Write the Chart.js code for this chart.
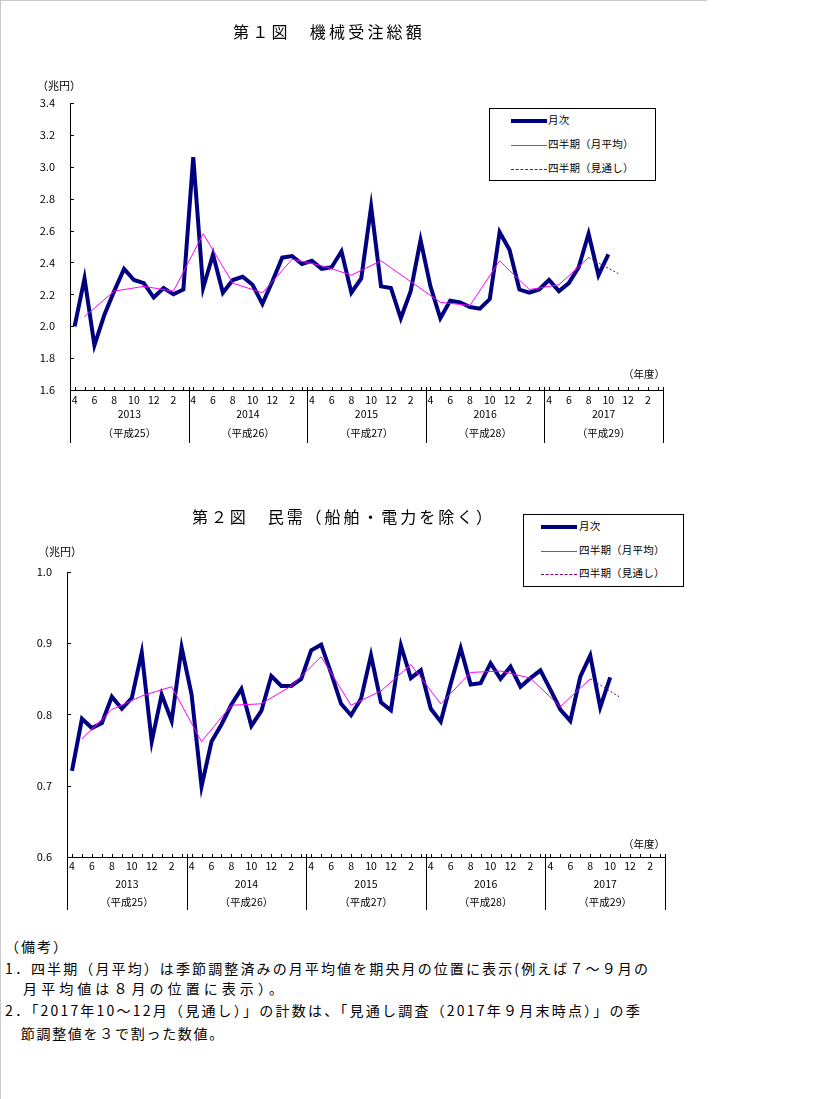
<!DOCTYPE html>
<html lang="ja">
<head>
<meta charset="utf-8">
<title>機械受注総額</title>
<script src="https://cdn.jsdelivr.net/npm/chart.js@4.4.0/dist/chart.umd.min.js"></script>
<style>
body { margin: 0; background: #fff; font-family: "Noto Sans CJK JP", sans-serif; color: #000; }
#page { position: relative; width: 832px; height: 1099px; overflow: hidden; }
#page canvas { position: absolute; left: 0; }
.abs { position: absolute; white-space: nowrap; line-height: 1; }
.title { font-size: 16px; letter-spacing: 2.9px; }
.unit { font-size: 11px; }
.nendo { font-size: 10.5px; }
.legend { position: absolute; border: 1px solid #000; background: #fff; font-size: 10.5px; letter-spacing: 0.2px; }
.legend .row { position: absolute; left: 0; height: 0; }
.legend .ln { position: absolute; width: 36px; }
.legend .tx { position: absolute; top: -7px; line-height: 1.2; white-space: nowrap; }
.note { font-size: 14px; letter-spacing: 2px; left: 5px; }
.frame-top { position: absolute; left: 0; top: 0; width: 707px; height: 1px; background: #c8c8c8; }
.frame-left { position: absolute; left: 0; top: 0; width: 1px; height: 1099px; background: #c8c8c8; }
</style>
</head>
<body>
<div id="page">
  <div class="frame-top"></div>
  <div class="frame-left"></div>

  <canvas id="chart1" width="832" height="460" style="top:0"></canvas>
  <canvas id="chart2" width="832" height="460" style="top:470px"></canvas>

  <div class="abs title" data-fit="192" style="left:233px; top:23px">第１図　機械受注総額</div>
  <div class="abs unit" style="left:37px; top:80px">（兆円）</div>
  <div class="abs nendo" style="left:623px; top:369px">（年度）</div>
  <div class="legend" style="left:489px; top:108px; width:165px; height:71px">
    <div class="row" style="top:12px"><div class="ln" style="left:21px; top:-2px; height:4px; background:#000080"></div><div class="tx" style="left:58px">月次</div></div>
    <div class="row" style="top:36px"><div class="ln" style="left:21px; top:0; height:1px; background:#ff00ff"></div><div class="tx" style="left:58px">四半期（月平均）</div></div>
    <div class="row" style="top:60px"><div class="ln" style="left:21px; top:0; border-top:1px dashed #800080"></div><div class="tx" style="left:58px">四半期（見通し）</div></div>
  </div>

  <div class="abs title" data-fit="303" style="left:192px; top:508px">第２図　民需（船舶・電力を除く）</div>
  <div class="abs unit" style="left:38px; top:546px">（兆円）</div>
  <div class="abs nendo" style="left:623px; top:839px">（年度）</div>
  <div class="legend" style="left:523px; top:514px; width:159px; height:71px">
    <div class="row" style="top:12px"><div class="ln" style="left:17px; top:-2px; height:4px; background:#000080"></div><div class="tx" style="left:55px">月次</div></div>
    <div class="row" style="top:36px"><div class="ln" style="left:17px; top:0; height:1px; background:#ff00ff"></div><div class="tx" style="left:55px">四半期（月平均）</div></div>
    <div class="row" style="top:59px"><div class="ln" style="left:17px; top:0; border-top:1px dashed #800080"></div><div class="tx" style="left:55px">四半期（見通し）</div></div>
  </div>

  <div class="abs note" style="top:939px">（備考）</div>
  <div class="abs note" data-fit="645" style="top:961px">1．四半期（月平均）は季節調整済みの月平均値を期央月の位置に表示(例えば７～９月の</div>
  <div class="abs note" data-fit="282" style="top:981px">　月平均値は８月の位置に表示）。</div>
  <div class="abs note" data-fit="637" style="top:1003px">2．「2017年10～12月（見通し）」の計数は、「見通し調査（2017年９月末時点）」の季</div>
  <div class="abs note" data-fit="220" style="top:1026px">　節調整値を３で割った数値。</div>
</div>

<script>
// fiscal year months (April start) and year labels
const months = [4, 5, 6, 7, 8, 9, 10, 11, 12, 1, 2, 3];
const years = ['2013', '2014', '2015', '2016', '2017'];
const heisei = ['（平成25）', '（平成26）', '（平成27）', '（平成28）', '（平成29）'];

// 第1図 機械受注総額 (兆円), 2013/4 - 2017/10
const monthly1 = [
    2.00, 2.30, 1.88, 2.07, 2.22, 2.36, 2.29, 2.27, 2.18, 2.24, 2.20, 2.23,
    3.06, 2.24, 2.45, 2.21, 2.29, 2.31, 2.26, 2.14, 2.28, 2.43, 2.44, 2.39,
    2.41, 2.36, 2.37, 2.47, 2.21, 2.30, 2.75, 2.25, 2.24, 2.05, 2.22, 2.54,
    2.25, 2.05, 2.16, 2.15, 2.12, 2.11, 2.17, 2.59, 2.48, 2.23, 2.21, 2.23,
    2.29, 2.22, 2.27, 2.37, 2.58, 2.32, 2.45
];
// quarterly monthly averages, plotted at the middle month of each quarter
const quarter1 = [
    2.06, 2.22, 2.25, 2.22, 2.58, 2.27, 2.21, 2.42, 2.38, 2.32,
    2.41, 2.28, 2.15, 2.13, 2.41, 2.23, 2.26, 2.43
];
const outlook1 = [2.43, 2.33];

// 第2図 民需（船舶・電力を除く） (兆円)
const monthly2 = [
    0.721, 0.794, 0.781, 0.788, 0.825, 0.808, 0.823, 0.887, 0.762, 0.828, 0.791, 0.894,
    0.828, 0.699, 0.762, 0.786, 0.814, 0.836, 0.784, 0.805, 0.854, 0.840, 0.840, 0.850,
    0.890, 0.898, 0.858, 0.815, 0.799, 0.822, 0.883, 0.817, 0.806, 0.897, 0.851, 0.862,
    0.808, 0.790, 0.843, 0.893, 0.842, 0.844, 0.872, 0.850, 0.867, 0.839, 0.851, 0.862,
    0.835, 0.807, 0.791, 0.853, 0.883, 0.810, 0.852
];
const quarter2 = [
    0.766, 0.807, 0.826, 0.839, 0.762, 0.813, 0.815, 0.840, 0.881, 0.813,
    0.833, 0.870, 0.815, 0.859, 0.861, 0.851, 0.811, 0.850
];
const outlook2 = [0.850, 0.824];

// spread the letters of fixed-width text lines so they span the same width as the source
document.querySelectorAll('[data-fit]').forEach(el => {
    el.style.letterSpacing = '0px';
    const natural = el.getBoundingClientRect().width;
    const n = Array.from(el.textContent).length;
    const target = parseFloat(el.dataset.fit);
    el.style.letterSpacing = ((target - natural) / n).toFixed(3) + 'px';
});

Chart.defaults.font.family = '"Noto Sans CJK JP", sans-serif';
Chart.defaults.color = '#000';

const totalMonths = years.length * 12;
const monthIdx = Array.from({ length: totalMonths }, (_, i) => i);

// draws inward ticks, year dividers and year labels under the x axis
const axisDecor = {
    id: 'axisDecor',
    afterDraw(chart, args, opts) {
        const ctx = chart.ctx;
        const xs = chart.scales.x;
        const ys = chart.scales.y;
        const a = chart.chartArea;
        ctx.save();
        ctx.strokeStyle = '#000';
        ctx.lineWidth = 1;
        ctx.beginPath();
        ys.ticks.forEach(t => {
            const py = Math.round(ys.getPixelForValue(t.value)) + 0.5;
            ctx.moveTo(a.left, py);
            ctx.lineTo(a.left + 4, py);
        });
        monthIdx.forEach(i => {
            const px = Math.round(xs.getPixelForValue(i)) + 0.5;
            ctx.moveTo(px, a.bottom);
            ctx.lineTo(px, a.bottom - 3);
        });
        for (let k = 0; k <= years.length; k++) {
            const px = Math.round(xs.getPixelForValue(xs.min + 12 * k)) + 0.5;
            ctx.moveTo(px, a.bottom - 3);
            ctx.lineTo(px, a.bottom + 53);
        }
        ctx.stroke();

        ctx.fillStyle = '#000';
        ctx.font = '10.5px "Noto Sans CJK JP"';
        ctx.textAlign = 'center';
        ctx.textBaseline = 'middle';
        years.forEach((yr, k) => {
            const cx = xs.getPixelForValue(xs.min + 12 * k + 6);
            ctx.fillText(yr, cx, a.bottom + opts.yearOffset);
            ctx.fillText(heisei[k], cx, a.bottom + opts.eraOffset);
        });
        ctx.restore();
    }
};

function makeChart(id, monthly, quarter, outlook, cfg) {
    const ctx = document.getElementById(id).getContext('2d');
    return new Chart(ctx, {
        type: 'line',
        data: {
            datasets: [{
                label: '月次',
                data: monthly.map((v, i) => ({ x: i, y: v })),
                borderColor: '#000080',
                borderWidth: 4,
                order: 3
            }, {
                label: '四半期（月平均）',
                data: quarter.map((v, k) => ({ x: 1 + 3 * k, y: v })),
                borderColor: '#ff00ff',
                borderWidth: 1,
                order: 1
            }, {
                label: '四半期（見通し）',
                data: outlook.map((v, k) => ({ x: 52 + 3 * k, y: v })),
                borderColor: '#800080',
                borderWidth: 1,
                borderDash: [2, 2],
                order: 2
            }]
        },
        options: {
            responsive: false,
            animation: false,
            devicePixelRatio: 1,
            elements: { point: { radius: 0 }, line: { tension: 0 } },
            layout: { padding: cfg.padding },
            plugins: {
                legend: { display: false },
                tooltip: { enabled: false },
                axisDecor: { yearOffset: cfg.yearOffset, eraOffset: cfg.eraOffset }
            },
            scales: {
                x: {
                    type: 'linear',
                    min: cfg.xMin,
                    max: cfg.xMin + totalMonths,
                    afterBuildTicks: s => { s.ticks = monthIdx.map(v => ({ value: v })); },
                    afterFit: s => { s.height = 53; },
                    grid: { display: false, drawTicks: false },
                    border: { display: true, color: '#000', width: 1 },
                    ticks: {
                        autoSkip: false,
                        maxRotation: 0,
                        padding: cfg.xLabelPad,
                        font: { size: 10.5 },
                        callback: v => (v % 2 === 0 ? String(months[v % 12]) : '')
                    }
                },
                y: {
                    min: cfg.yMin,
                    max: cfg.yMax,
                    afterFit: s => { s.width = cfg.yWidth; },
                    grid: { display: false, drawTicks: false },
                    border: { display: true, color: '#000', width: 1 },
                    ticks: {
                        stepSize: cfg.yStep,
                        padding: 15,
                        font: { size: 11 },
                        callback: v => v.toFixed(1)
                    }
                }
            }
        },
        plugins: [axisDecor]
    });
}

makeChart('chart1', monthly1, quarter1, outlook1, {
    padding: { left: 0, right: 169, top: 103, bottom: 17 },
    yWidth: 70, yMin: 1.6, yMax: 3.4, yStep: 0.2,
    xMin: -0.47, xLabelPad: 4, yearOffset: 24, eraOffset: 43
});

makeChart('chart2', monthly2, quarter2, outlook2, {
    padding: { left: 0, right: 167, top: 102, bottom: 20 },
    yWidth: 67, yMin: 0.6, yMax: 1.0, yStep: 0.1,
    xMin: -0.5, xLabelPad: 3, yearOffset: 27, eraOffset: 45
});
</script>
</body>
</html>
